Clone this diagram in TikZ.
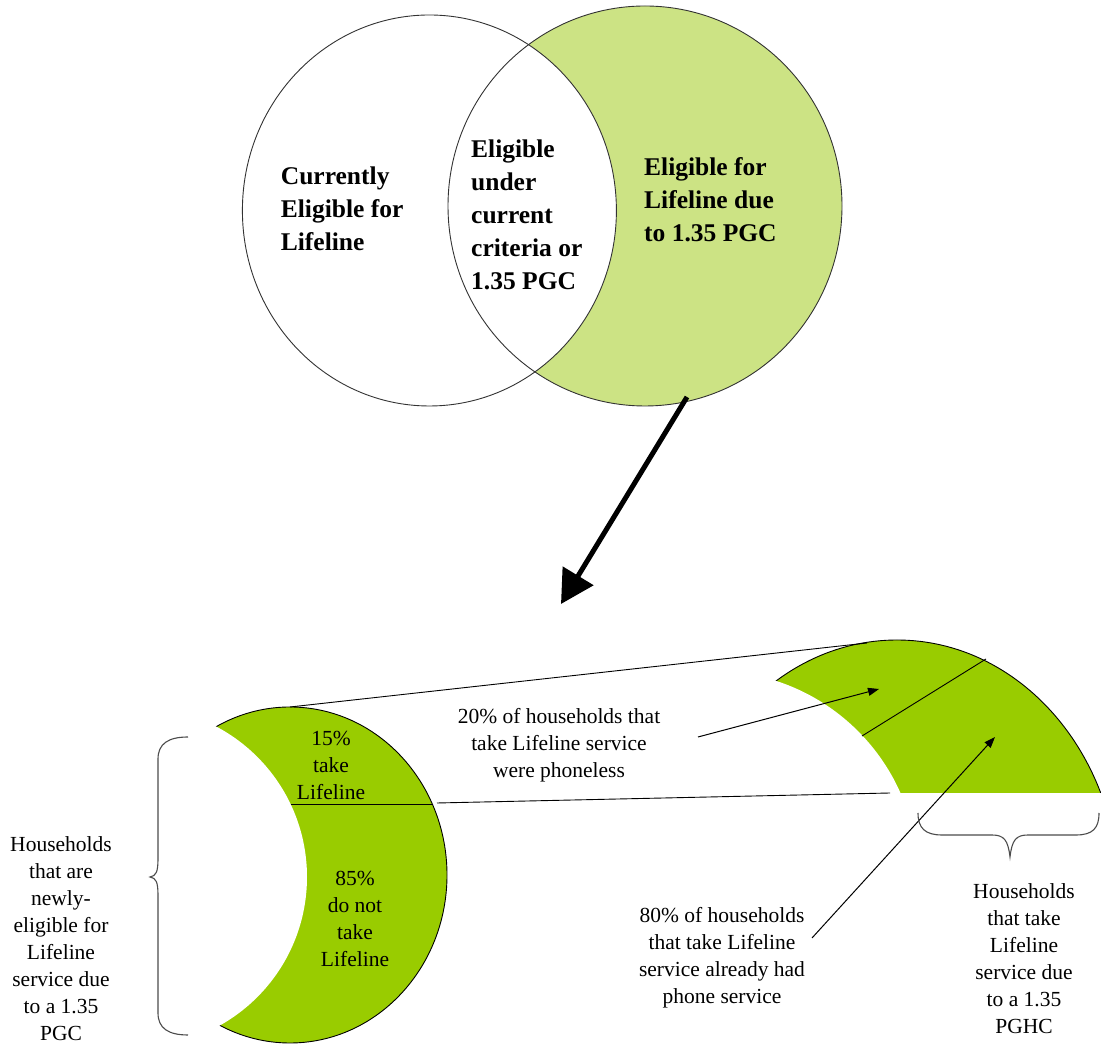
\documentclass[tikz,border=0pt]{standalone}
\usepackage{fontspec}
\setmainfont{Liberation Serif}
\usetikzlibrary{arrows.meta}
\definecolor{venngreen}{HTML}{CCE384}
\definecolor{deepgreen}{HTML}{99CC00}
\definecolor{outl}{HTML}{333333}
\begin{document}
\begin{tikzpicture}[x=1pt,y=1pt,
  vennlbl/.style={font=\bfseries\fontsize{25.5}{33}\selectfont, align=left, inner sep=0pt, anchor=west},
  lbl/.style={font=\fontsize{21.5}{27}\selectfont, align=center, inner sep=0pt},
  thinline/.style={line width=0.9pt, black},
  bracepath/.style={line width=1.1pt, draw=black!70},
  smallarrow/.style={line width=1pt, -{Triangle[length=11pt,width=8pt]}},
  bigarrow/.style={line width=5pt, -{Triangle[length=33pt,width=35pt]}}]
\useasboundingbox (0,0) rectangle (1101,1044);

% ---------- Venn diagram ----------
\fill[venngreen] (645,838) ellipse [x radius=197, y radius=200];
\fill[white] (429.4,833.5) ellipse [x radius=187, y radius=195.5];
\draw[outl, line width=0.9pt] (645,838) ellipse [x radius=197, y radius=200];
\draw[outl, line width=0.9pt] (429.4,833.5) ellipse [x radius=187, y radius=195.5];

\node[vennlbl] (cur) at (280.7,835) {Currently\\Eligible for\\Lifeline};
\node[vennlbl] (both) at (471,829) {Eligible\\under\\current\\criteria or\\1.35 PGC};
\node[vennlbl] (new) at (644,844) {Eligible for\\Lifeline due\\to 1.35 PGC};

% ---------- big arrow ----------
\coordinate (bigA) at (687,647);
\coordinate (bigB) at (561,440);
\draw[bigarrow] (bigA) -- (bigB);

% ---------- left crescent ----------
\filldraw[fill=deepgreen, draw=black, line width=0.9pt] (290,169) ellipse [x radius=157, y radius=168];
\fill[white] (137,167) circle (170);
\coordinate (divL1) at (290.5,240);
\coordinate (divL2) at (431.8,240);
\draw[thinline] (divL1) -- (divL2);

% ---------- right piece ----------
\begin{scope}
  \clip (0,251) rectangle (1101,1044);
  \filldraw[fill=deepgreen, draw=black, line width=0.9pt] (897,150) ellipse [x radius=222, y radius=254];
  \fill[white] (713,168) circle (205);
\end{scope}
\coordinate (divR1) at (862,308);
\coordinate (divR2) at (986,385);
\draw[thinline] (divR1) -- (divR2);

% ---------- connecting lines ----------
\coordinate (topL) at (290,337);
\coordinate (topR) at (867,401);
\coordinate (botL) at (437,241);
\coordinate (botR) at (890,251);
\draw[thinline] (topL) -- (topR);
\draw[thinline] (botL) -- (botR);

% ---------- small arrows ----------
\coordinate (a1s) at (698,307);
\coordinate (a1e) at (879,355);
\coordinate (a2s) at (812,106);
\coordinate (a2e) at (995,307);
\draw[smallarrow] (a1s) -- (a1e);
\draw[smallarrow] (a2s) -- (a2e);

% ---------- braces ----------
\draw[bracepath] (188,307) .. controls (168,307) and (158,300) .. (158,285) -- (158,185)
  .. controls (158,172) and (156,168) .. (150,167)
  .. controls (156,166) and (158,162) .. (158,149) -- (158,31)
  .. controls (158,16) and (168,9) .. (188,9);
\draw[bracepath] (918,231) .. controls (918,216) and (925,209) .. (942,209) -- (992,209)
  .. controls (1004,209) and (1008,204) .. (1010,187)
  .. controls (1012,204) and (1016,209) .. (1028,209) -- (1076,209)
  .. controls (1093,209) and (1099,216) .. (1099,231);

% ---------- labels ----------
\node[lbl] (take) at (331,279) {15\%\\take\\Lifeline};
\node[lbl] (nottake) at (355,125.5) {85\%\\do not\\take\\Lifeline};
\node[lbl] (newly) at (61,105) {Households\\that are\\newly-\\eligible for\\Lifeline\\service due\\to a 1.35\\PGC};
\node[lbl] (phoneless) at (559,299) {20\% of households that\\take Lifeline service\\were phoneless};
\node[lbl] (hadphone) at (722,86.5) {80\% of households\\that take Lifeline\\service already had\\phone service};
\node[lbl] (takers) at (1024,85.5) {Households\\that take\\Lifeline\\service due\\to a 1.35\\PGHC};
\end{tikzpicture}
\end{document}
